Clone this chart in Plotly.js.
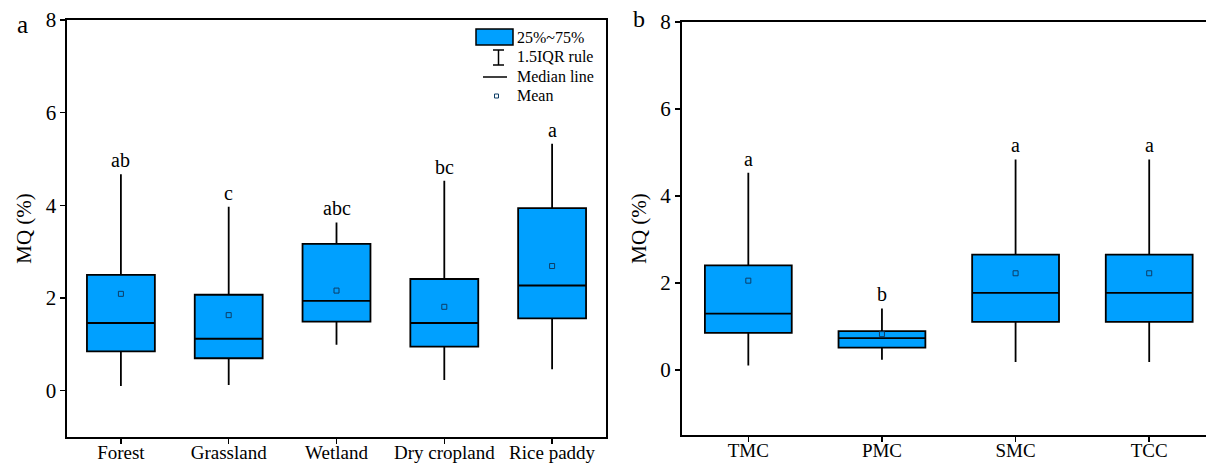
<!DOCTYPE html>
<html>
<head>
<meta charset="utf-8">
<script src="https://cdn.plot.ly/plotly-3.0.1.min.js"></script>
<style>html,body{margin:0;padding:0;background:#fff;}#chart{width:1206px;height:465px;}</style>
</head>
<body>
<div id="chart"></div>
<script>
// ---- Data (panel a: land use types) ----
const catsA = ["Forest", "Grassland", "Wetland", "Dry cropland", "Rice paddy"];
const lowA  = [0.10, 0.12, 0.99, 0.23, 0.46];
const q1A   = [0.85, 0.70, 1.49, 0.95, 1.56];
const medA  = [1.46, 1.12, 1.94, 1.46, 2.27];
const q3A   = [2.50, 2.07, 3.17, 2.41, 3.94];
const highA = [4.67, 3.97, 3.63, 4.53, 5.33];
const meanA = [2.09, 1.63, 2.16, 1.81, 2.69];
const sigA  = ["ab", "c", "abc", "bc", "a"];

// ---- Data (panel b) ----
const catsB = ["TMC", "PMC", "SMC", "TCC"];
const lowB  = [0.10, 0.23, 0.18, 0.18];
const q1B   = [0.85, 0.51, 1.10, 1.10];
const medB  = [1.29, 0.73, 1.77, 1.77];
const q3B   = [2.40, 0.89, 2.65, 2.65];
const highB = [4.53, 1.41, 4.84, 4.84];
const meanB = [2.05, 0.82, 2.22, 2.22];
const sigB  = ["a", "b", "a", "a"];

const legendLabels = ["25%~75%", "1.5IQR rule", "Median line", "Mean"];
const yTicks = [0, 2, 4, 6, 8];

const W = 1206, H = 465;
const FONT = "Liberation Serif";
const BLUE = "#00A0FF";
const MEANCOL = "#0d3d66";
const px = v => v / W;
const py = v => 1 - v / H;

function boxTrace(cats, low, q1, med, q3, high, xa, ya, w) {
  return {
    type: "box", x: cats, q1: q1, median: med, q3: q3,
    lowerfence: low, upperfence: high,
    xaxis: xa, yaxis: ya, width: w,
    fillcolor: BLUE, line: {color: "#000", width: 1.8},
    whiskerwidth: 0, boxpoints: false, showlegend: false, hoverinfo: "skip"
  };
}
function meanTrace(cats, mean, xa, ya) {
  return {
    type: "scatter", mode: "markers", x: cats, y: mean, xaxis: xa, yaxis: ya,
    marker: {symbol: "square-open", size: 5, color: MEANCOL, line: {width: 1, color: MEANCOL}},
    showlegend: false, hoverinfo: "skip"
  };
}

const data = [
  boxTrace(catsA, lowA, q1A, medA, q3A, highA, "x", "y", 0.63),
  meanTrace(catsA, meanA, "x", "y"),
  boxTrace(catsB, lowB, q1B, medB, q3B, highB, "x2", "y2", 0.65),
  meanTrace(catsB, meanB, "x2", "y2")
];

const annotations = [];
catsA.forEach((c, i) => annotations.push({
  x: c, y: highA[i], xref: "x", yref: "y", text: sigA[i], showarrow: false,
  yanchor: "bottom", yshift: 1, font: {family: FONT, size: 20, color: "#000"}
}));
catsB.forEach((c, i) => annotations.push({
  x: c, y: highB[i], xref: "x2", yref: "y2", text: sigB[i], showarrow: false,
  yanchor: "bottom", yshift: 1, font: {family: FONT, size: 20, color: "#000"}
}));
// panel letters
annotations.push({x: px(22), y: py(25), xref: "paper", yref: "paper", text: "a", showarrow: false,
  xanchor: "center", yanchor: "middle", font: {family: FONT, size: 25, color: "#000"}});
annotations.push({x: px(639), y: py(19), xref: "paper", yref: "paper", text: "b", showarrow: false,
  xanchor: "center", yanchor: "middle", font: {family: FONT, size: 24, color: "#000"}});
// legend texts
const legY = [37, 57, 77, 96];
legendLabels.forEach((t, i) => annotations.push({
  x: px(515), y: py(legY[i]), xref: "paper", yref: "paper", text: t, showarrow: false,
  xanchor: "left", yanchor: "middle", font: {family: FONT, size: 16, color: "#000"}
}));

const shapes = [
  {type: "rect", xref: "paper", yref: "paper", x0: px(476), x1: px(513), y0: py(29), y1: py(45),
   fillcolor: BLUE, line: {color: "#000", width: 1.5}},
  {type: "line", xref: "paper", yref: "paper", x0: px(498.5), x1: px(498.5), y0: py(50), y1: py(65), line: {color: "#000", width: 1.5}},
  {type: "line", xref: "paper", yref: "paper", x0: px(493), x1: px(504), y0: py(50), y1: py(50), line: {color: "#000", width: 1.5}},
  {type: "line", xref: "paper", yref: "paper", x0: px(493), x1: px(504), y0: py(65), y1: py(65), line: {color: "#000", width: 1.5}},
  {type: "line", xref: "paper", yref: "paper", x0: px(483), x1: px(507), y0: py(77), y1: py(77), line: {color: "#000", width: 1.5}},
  {type: "rect", xref: "paper", yref: "paper", x0: px(494.5), x1: px(498.5), y0: py(94), y1: py(98), line: {color: MEANCOL, width: 1}}
];

const axisFont = {family: FONT, size: 19, color: "#000"};
const commonX = {
  type: "category", showgrid: false, zeroline: false, showline: true, linecolor: "#000", linewidth: 1.6,
  ticks: "outside", ticklen: 5, tickwidth: 1.5, tickcolor: "#000", tickfont: axisFont, fixedrange: true,
  ticklabelstandoff: -7
};
const commonY = {
  showgrid: false, zeroline: false, showline: true, linecolor: "#000", linewidth: 1.6,
  ticks: "outside", ticklen: 5, tickwidth: 1.5, tickcolor: "#000", tickfont: {family: FONT, size: 21, color: "#000"},
  tickvals: yTicks, ticktext: yTicks.map(String), fixedrange: true
};

const layout = {
  width: W, height: H,
  margin: {l: 0, r: 0, t: 0, b: 0},
  paper_bgcolor: "#fff", plot_bgcolor: "#fff",
  showlegend: false,
  font: {family: FONT, color: "#000"},
  xaxis: Object.assign({}, commonX, {domain: [px(67), px(606)], range: [-0.5, 4.5], mirror: true, anchor: "y"}),
  yaxis: Object.assign({}, commonY, {domain: [1 - 437 / H, 1 - 20 / H], range: [-1, 8], mirror: true, anchor: "x",
    title: {text: "MQ (%)", font: {family: FONT, size: 21, color: "#000"}, standoff: 8}}),
  xaxis2: Object.assign({}, commonX, {domain: [px(681.5), 1], range: [-0.5, 3.425], mirror: true, anchor: "y2"}),
  yaxis2: Object.assign({}, commonY, {domain: [1 - 435 / H, 1 - 22 / H], range: [-1.5, 8], mirror: false, anchor: "x2",
    title: {text: "MQ (%)", font: {family: FONT, size: 21, color: "#000"}, standoff: 8}}),
  annotations: annotations,
  shapes: shapes
};

Plotly.newPlot("chart", data, layout, {displayModeBar: false, staticPlot: true});
</script>
</body>
</html>
